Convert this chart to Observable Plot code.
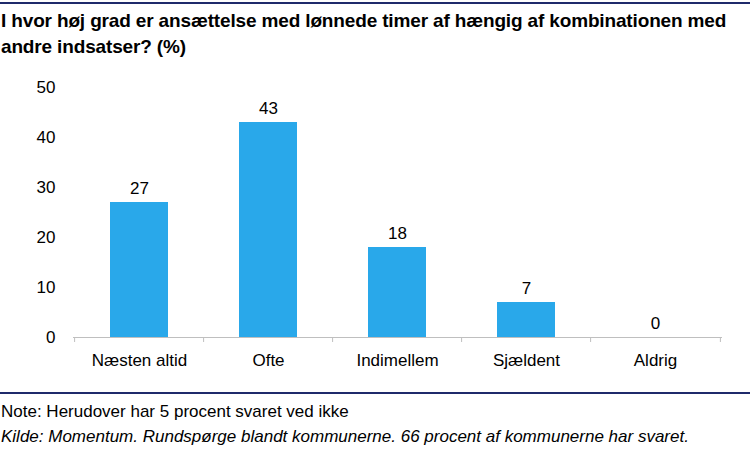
<!DOCTYPE html>
<html>
<head>
<meta charset="utf-8">
<script src="https://cdn.jsdelivr.net/npm/d3@7"></script>
<script src="https://cdn.jsdelivr.net/npm/@observablehq/plot@0.6"></script>
<style>
  html, body { margin: 0; padding: 0; background: #fff; }
  body { width: 750px; height: 451px; position: relative; overflow: hidden; font-family: "Liberation Sans", Arial, sans-serif; color: #000; }
  .topline { position: absolute; left: 0; top: 2px; width: 750px; height: 2px; background: #1F2A6B; }
  .title { position: absolute; left: 1px; top: 8px; width: 749px; font-weight: bold; font-size: 19px; line-height: 26px; letter-spacing: -0.15px; white-space: nowrap; }
  #chart { position: absolute; left: 0; top: 70px; }
  .botline { position: absolute; left: 0; top: 392px; width: 750px; height: 2px; background: #1F2A6B; }
  .note { position: absolute; left: 1px; top: 399px; font-size: 17px; line-height: 25px; white-space: nowrap; }
  .note i { font-style: italic; }
</style>
</head>
<body>
<div class="topline"></div>
<div class="title">I hvor høj grad er ansættelse med lønnede timer af hængig af kombinationen med<br>andre indsatser? (%)</div>
<div id="chart"></div>
<div class="botline"></div>
<div class="note">Note: Herudover har 5 procent svaret ved ikke<br><i>Kilde: Momentum. Rundspørge blandt kommunerne. 66 procent af kommunerne har svaret.</i></div>
<script>
const categories = ["Næsten altid", "Ofte", "Indimellem", "Sjældent", "Aldrig"];
const values = [27, 43, 18, 7, 0];
const yTicks = [0, 10, 20, 30, 40, 50];

const data = categories.map((c, i) => ({category: c, value: values[i]}));

const W = 750, H = 315, mL = 73, mR = 28, mT = 17, mB = 48;
const step = (W - mL - mR) / categories.length;

const plot = Plot.plot({
  width: W,
  height: H,
  marginLeft: mL,
  marginRight: mR,
  marginTop: mT,
  marginBottom: mB,
  style: {fontFamily: '"Liberation Sans", Arial, sans-serif', fontSize: "17px", color: "#000", background: "#fff"},
  x: {domain: categories, paddingInner: 0.55, paddingOuter: 0.275, label: null},
  y: {domain: [0, 50], label: null},
  marks: [
    Plot.barY(data, {x: "category", y: "value", fill: "#29A8EA"}),
    Plot.ruleY([0], {stroke: "#BFBFBF", strokeWidth: 1}),
    Plot.ruleX(data, {x: "category", y1: 0, y2: -1, dx: -step / 2, stroke: "#BFBFBF"}),
    Plot.ruleX([categories[categories.length - 1]], {x: d => d, y1: 0, y2: -1, dx: step / 2, stroke: "#BFBFBF"}),
    Plot.text(data, {x: "category", y: "value", text: d => String(d.value), dy: -14, fontSize: 17, fill: "#000"}),
    Plot.axisY({ticks: yTicks, tickSize: 0, tickPadding: 18, fontSize: 17, fill: "#000"}),
    Plot.axisX({tickSize: 0, tickPadding: 16, fontSize: 17, fill: "#000"})
  ]
});
document.getElementById("chart").appendChild(plot);
</script>
</body>
</html>
